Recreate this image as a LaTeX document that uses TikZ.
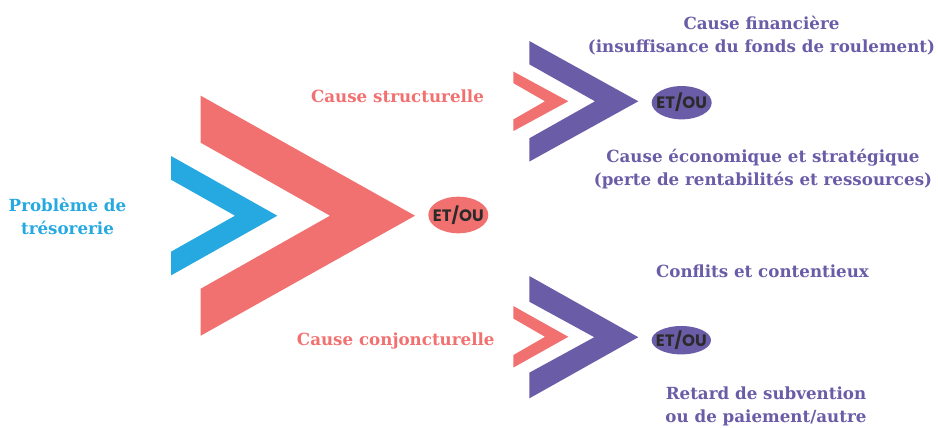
\documentclass[tikz,border=0pt]{standalone}
\usepackage{fontspec}
\setmainfont{DejaVu Serif}
\newfontfamily\etfont{Poppins}
\usetikzlibrary{shapes.geometric}

\definecolor{bleu}{HTML}{26A9E0}
\definecolor{rouge}{HTML}{F17170}
\definecolor{violet}{HTML}{6A5CA7}
\definecolor{encre}{HTML}{2B2B2B}

\begin{document}
\begin{tikzpicture}[
  x=1pt, y=-1pt,
  label text/.style={font=\fontsize{16.7}{23}\selectfont\bfseries, inner sep=0pt, align=center},
  et ou/.style={ellipse, inner xsep=-5.5pt, inner ysep=0pt, text=encre, font=\etfont\fontsize{16.5}{16.5}\selectfont\bfseries},
]
  \useasboundingbox (0,0) rectangle (938,428);

  % chevrons
  \fill[bleu] (171,156) -- (277.3,215.7) -- (171,275.4) -- (171,251.7) -- (235,215.7) -- (171,179.7) -- cycle;
  \fill[rouge] (200.7,95.7) -- (415,215.7) -- (200.7,335.7) -- (200.7,288.7) -- (330,215.7) -- (200.7,142.7) -- cycle;
  \fill[rouge] (513.3,71.5) -- (568.3,101.3) -- (513.3,131.1) -- (513.3,119.5) -- (545,101.3) -- (513.3,83.1) -- cycle;
  \fill[violet] (529.3,41) -- (638.3,101.3) -- (529.3,161.6) -- (529.3,138.3) -- (595,101.3) -- (529.3,64.3) -- cycle;
  \fill[rouge] (513.3,306) -- (568.3,336.8) -- (513.3,367.6) -- (513.3,355.1) -- (545,336.8) -- (513.3,318.5) -- cycle;
  \fill[violet] (529.3,276) -- (638.3,337.2) -- (529.3,398.4) -- (529.3,372.7) -- (594.3,337.2) -- (529.3,301.7) -- cycle;

  % ET/OU
  \node[et ou, fill=rouge, minimum width=60pt, minimum height=36.6pt] (eto) at (458.3,215) {ET/OU};
  \node[et ou, fill=violet, minimum width=60pt, minimum height=33.3pt] (etstruct) at (681.7,102.7) {ET/OU};
  \node[et ou, fill=violet, minimum width=59.4pt, minimum height=28.4pt] (etconj) at (681.3,340.2) {ET/OU};

  % textes
  \node[label text, text=bleu] (probleme) at (67.5,216) {Problème de\\trésorerie};
  \node[label text, text=rouge, anchor=base] (struct) at (397.5,102.3) {Cause structurelle};
  \node[label text, text=rouge, anchor=base] (conj) at (395.8,345.3) {Cause conjoncturelle};
  \node[label text, text=violet] (finance) at (761.5,36) {Cause financière\\(insuffisance du fonds de roulement)};
  \node[label text, text=violet] (eco) at (763,169) {Cause économique et stratégique\\(perte de rentabilités et ressources)};
  \node[label text, text=violet, anchor=base] (conflits) at (762.5,277.7) {Conflits et contentieux};
  \node[label text, text=violet] (retard) at (766,406) {Retard de subvention\\ou de paiement/autre};
\end{tikzpicture}
\end{document}
